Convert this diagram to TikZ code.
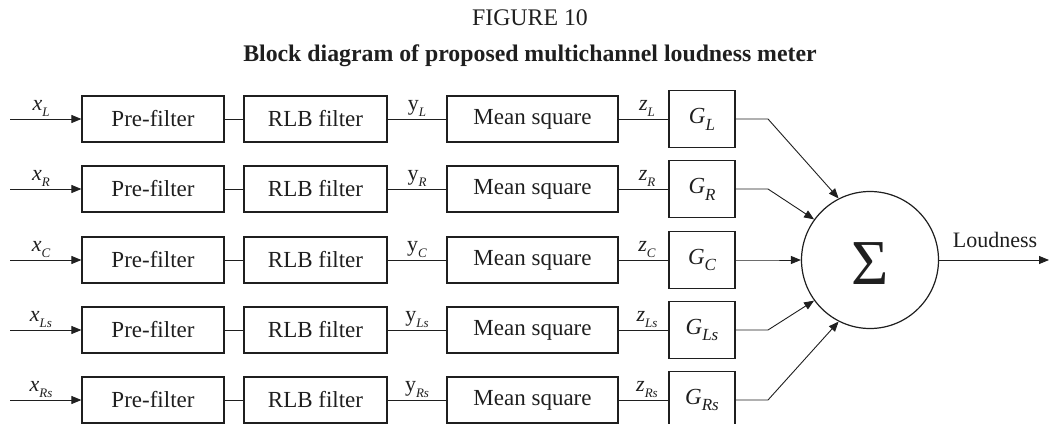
\documentclass[tikz,border=0pt]{standalone}
\usepackage{fontspec}
\setmainfont{Liberation Serif}
\usetikzlibrary{arrows.meta}
\newcommand{\sublab}[3]{#1\raisebox{-0.3em}{\fontsize{#3}{#3}\selectfont\itshape #2}}
\begin{document}
\begin{tikzpicture}[x=1pt,y=-1pt,
  ink/.style={color=black!88},
  box/.style={ink, draw, line width=1.2pt, minimum height=46pt, inner sep=0pt, font=\fontsize{23}{26}\selectfont},
  gbox/.style={box, minimum width=66pt, minimum height=57pt},
  wire/.style={ink, line width=0.9pt},
  arr/.style={wire, -{Triangle[length=10pt,width=8pt]}},
  lab/.style={ink, inner sep=0pt, font=\fontsize{22}{24}\selectfont}]
\useasboundingbox (0,0) rectangle (1049,423);
\node[lab, font=\fontsize{23.8}{26}\selectfont] (fig) at (530,18) {FIGURE 10};
\node[lab, font=\fontsize{23.8}{26}\selectfont\bfseries] (ttl) at (530,56) {Block diagram of proposed multichannel loudness meter};
\node[ink, draw, line width=1.2pt, circle, minimum size=137pt, inner sep=0pt] (sum) at (870,260) {};
\node[ink, inner sep=0pt, font=\fontsize{64}{64}\selectfont] (sig) at (870,264) {Σ};
\foreach \i/\yy/\s/\ang in {1/119/L/117, 2/189/R/144, 3/260/C/180, 4/330/Ls/216, 5/400/Rs/243} {
  \coordinate (in\i) at (10,\yy);
  \node[box, minimum width=142pt] (pre\i) at (153,\yy) {Pre-filter};
  \node[box, minimum width=143pt] (rlb\i) at (315.5,\yy) {RLB filter};
  \node[box, minimum width=171pt] (ms\i) at (532.5,\yy) {Mean square};
  \node[gbox] (g\i) at (702,\yy) {\itshape\sublab{G}{\s}{17}};
  \coordinate (bend\i) at (768,\yy);
  \draw[arr] (in\i) -- (pre\i.west);
  \draw[wire] (pre\i) -- (rlb\i);
  \draw[wire] (rlb\i) -- (ms\i);
  \draw[wire] (ms\i) -- (g\i);
  \draw[arr] (g\i.east) -- (bend\i) -- (sum.\ang);
  \node[lab, anchor=base] (xl\i) at (41,\yy-9) {\itshape\sublab{x}{\s}{13}};
  \node[lab, anchor=base] (yl\i) at (417,\yy-9) {\sublab{y}{\s}{13}};
  \node[lab, anchor=base] (zl\i) at (647,\yy-9) {\itshape\sublab{z}{\s}{13}};
}
\coordinate (out) at (1049,260);
\draw[arr] (sum.east) -- (out);
\node[lab] (loud) at (995,240) {Loudness};
\end{tikzpicture}
\end{document}
